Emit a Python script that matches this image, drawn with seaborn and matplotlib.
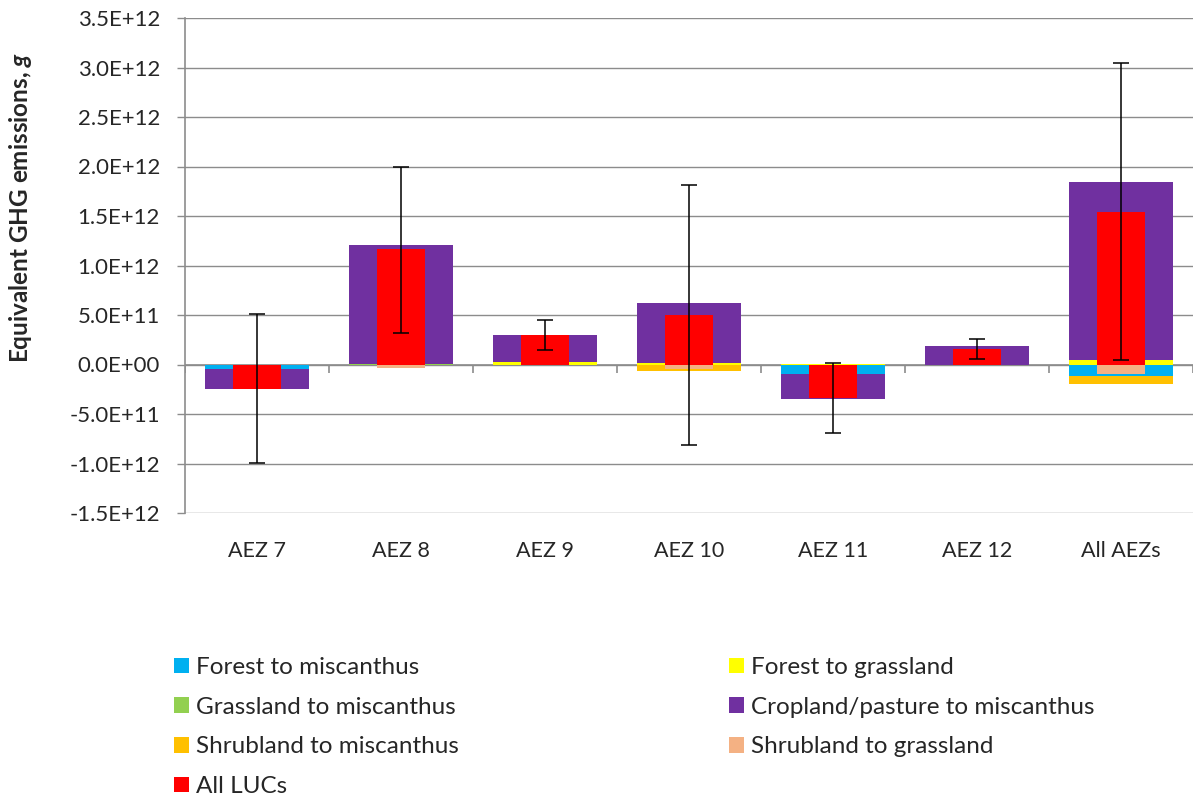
import numpy as np
import pandas as pd
import matplotlib
matplotlib.use("Agg")
import matplotlib.pyplot as plt
from matplotlib.patches import Patch
from matplotlib.ticker import FuncFormatter, MultipleLocator
import seaborn as sns

# Land-use change emissions by agro-ecological zone (g CO2-eq)
zones = ["AEZ 7", "AEZ 8", "AEZ 9", "AEZ 10", "AEZ 11", "AEZ 12", "All AEZs"]

forest_to_misc = [-0.045e12, 0.0, 0.0, -0.010e12, -0.100e12, 0.0, -0.115e12]
forest_to_grass = [0.0, 0.0, 0.030e12, 0.020e12, 0.005e12, 0.0, 0.045e12]
grass_to_misc = [0.0, 0.010e12, 0.0, 0.0, 0.0, 0.0, 0.0]
crop_to_misc = [-0.200e12, 1.195e12, 0.267e12, 0.600e12, -0.250e12, 0.190e12, 1.795e12]
shrub_to_misc = [0.0, 0.0, 0.0, -0.055e12, 0.0, -0.010e12, -0.080e12]
shrub_to_grass = [0.0, -0.040e12, 0.0, -0.045e12, 0.0, 0.0, -0.100e12]
all_lucs = [-0.245e12, 1.170e12, 0.297e12, 0.500e12, -0.335e12, 0.160e12, 1.540e12]

range_low = [-0.995e12, 0.320e12, 0.143e12, -0.810e12, -0.690e12, 0.060e12, 0.045e12]
range_high = [0.510e12, 2.000e12, 0.450e12, 1.810e12, 0.020e12, 0.260e12, 3.050e12]

labels = ["Forest to miscanthus", "Forest to grassland", "Grassland to miscanthus",
          "Cropland/pasture to miscanthus", "Shrubland to miscanthus",
          "Shrubland to grassland", "All LUCs"]
colors = ["#00B0F0", "#FFFF00", "#92D050", "#7030A0", "#FFC000", "#F4B183", "#FF0000"]

sns.set_style("white")
plt.rcParams["font.family"] = ["Lato", "DejaVu Sans"]
plt.rcParams["mathtext.fontset"] = "custom"
plt.rcParams["mathtext.bfit"] = "Lato:bold:italic"

fig = plt.figure(figsize=(11.99, 8.0), dpi=100)
ax = fig.add_axes([185 / 1199, 1 - 513 / 800, 1008 / 1199, 495 / 800])

# Wide stacked bars: positives and negatives stack separately.
wide = [forest_to_misc, forest_to_grass, grass_to_misc, crop_to_misc, shrub_to_misc]
wide_colors = colors[:5]
arr = np.array(wide)
pos_cum = np.cumsum(np.clip(arr, 0, None), axis=0)
neg_cum = np.cumsum(np.clip(arr, None, 0), axis=0)
for k in reversed(range(len(wide))):
    for cum in (pos_cum[k], neg_cum[k]):
        sns.barplot(x=zones, y=cum, order=zones, color=wide_colors[k], width=0.72,
                    saturation=1, errorbar=None, linewidth=0, zorder=2, ax=ax)

# Narrow overlay: shrubland to grassland and total of all land-use changes
sns.barplot(x=zones, y=shrub_to_grass, order=zones, color=colors[5], width=0.33,
            saturation=1, errorbar=None, linewidth=0, zorder=3, ax=ax)
sns.barplot(x=zones, y=all_lucs, order=zones, color=colors[6], width=0.33,
            saturation=1, errorbar=None, linewidth=0, zorder=3, ax=ax)

xpos = np.arange(len(zones))
total = np.array(all_lucs)
yerr = np.vstack([total - np.array(range_low), np.array(range_high) - total])
ax.errorbar(xpos, total, yerr=yerr, fmt="none", ecolor="black", elinewidth=1.1,
            capsize=6, capthick=1.1, zorder=4)

# Axes styling
ax.set_xlim(-0.5, len(zones) - 0.5)
ax.set_ylim(-1.5e12, 3.5e12)
ax.yaxis.set_major_locator(MultipleLocator(0.5e12))
ax.yaxis.set_major_formatter(FuncFormatter(lambda v, p: f"{v:.1E}"))
ax.grid(axis="y", color="#8c8c8c", linewidth=1.0)
ax.set_axisbelow(True)
for s in ("top", "right", "bottom"):
    ax.spines[s].set_visible(False)
ax.spines["left"].set_color("#8c8c8c")
ax.spines["left"].set_linewidth(1.2)
ax.spines["left"].set_zorder(5)

ax.axhline(0, color="#8c8c8c", linewidth=1.2, zorder=1)
ax.vlines(np.arange(len(zones) + 1) - 0.5, 0, -0.085e12, color="#8c8c8c",
          linewidth=1.2, zorder=1)

ax.tick_params(axis="y", direction="out", length=6, color="#8c8c8c", width=1,
               labelsize=16, pad=12, left=True)
ax.tick_params(axis="x", length=0, labelsize=15.5, pad=20)
ax.set_xlabel("")
ax.set_ylabel(r"Equivalent GHG emissions, $\mathbfit{g}$", fontsize=17.5,
              fontweight="bold")
ax.yaxis.set_label_coords(-0.150, 0.618)

# Legend in two columns, row-major order
handles = [Patch(facecolor=c, edgecolor="none") for c in colors]
order = [0, 2, 4, 6, 1, 3, 5]
fig.legend([handles[i] for i in order], [labels[i] for i in order],
           loc="upper left", bbox_to_anchor=(174 / 1199, 1 - 657 / 800),
           ncol=2, frameon=False, fontsize=17.5, handlelength=0.62,
           handleheight=0.62, handletextpad=0.3, labelspacing=0.77,
           columnspacing=11.1, borderaxespad=0, borderpad=0)

fig.savefig("out.png", dpi=100)
